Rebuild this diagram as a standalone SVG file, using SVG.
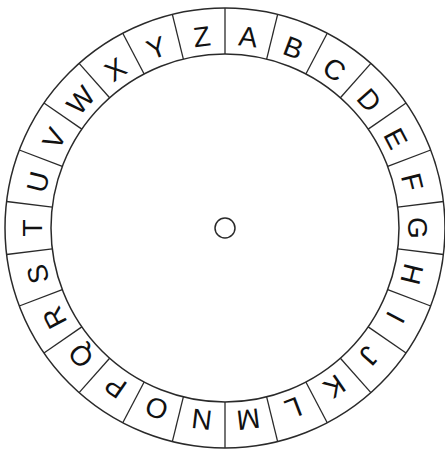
<svg xmlns="http://www.w3.org/2000/svg" xmlns:xlink="http://www.w3.org/1999/xlink" width="445" height="451" viewBox="0 0 445 451">
<style>
.ring{fill:none;stroke:#2a2a2a;stroke-width:1.5}
.div{stroke:#2a2a2a;stroke-width:1.3}
.lt{font-family:"Liberation Sans",Arial,sans-serif;font-size:28px;fill:#111;text-anchor:middle}
</style>
<defs>
<line id="d" class="div" x1="225" y1="54" x2="225" y2="8"/>
</defs>
<rect width="445" height="451" fill="#fff"/>
<g id="wheel">
<circle class="ring" cx="225" cy="228" r="220"/>
<circle class="ring" cx="225" cy="228" r="174"/>
<circle id="hub" class="ring" cx="225" cy="228" r="10"/>
</g>
<g id="dividers">
<use xlink:href="#d" transform="rotate(0 225 228)"/>
<use xlink:href="#d" transform="rotate(13.846 225 228)"/>
<use xlink:href="#d" transform="rotate(27.692 225 228)"/>
<use xlink:href="#d" transform="rotate(41.538 225 228)"/>
<use xlink:href="#d" transform="rotate(55.385 225 228)"/>
<use xlink:href="#d" transform="rotate(69.231 225 228)"/>
<use xlink:href="#d" transform="rotate(83.077 225 228)"/>
<use xlink:href="#d" transform="rotate(96.923 225 228)"/>
<use xlink:href="#d" transform="rotate(110.769 225 228)"/>
<use xlink:href="#d" transform="rotate(124.615 225 228)"/>
<use xlink:href="#d" transform="rotate(138.462 225 228)"/>
<use xlink:href="#d" transform="rotate(152.308 225 228)"/>
<use xlink:href="#d" transform="rotate(166.154 225 228)"/>
<use xlink:href="#d" transform="rotate(180 225 228)"/>
<use xlink:href="#d" transform="rotate(193.846 225 228)"/>
<use xlink:href="#d" transform="rotate(207.692 225 228)"/>
<use xlink:href="#d" transform="rotate(221.538 225 228)"/>
<use xlink:href="#d" transform="rotate(235.385 225 228)"/>
<use xlink:href="#d" transform="rotate(249.231 225 228)"/>
<use xlink:href="#d" transform="rotate(263.077 225 228)"/>
<use xlink:href="#d" transform="rotate(276.923 225 228)"/>
<use xlink:href="#d" transform="rotate(290.769 225 228)"/>
<use xlink:href="#d" transform="rotate(304.615 225 228)"/>
<use xlink:href="#d" transform="rotate(318.462 225 228)"/>
<use xlink:href="#d" transform="rotate(332.308 225 228)"/>
<use xlink:href="#d" transform="rotate(346.154 225 228)"/>
</g>
<g id="letters">
<text class="lt" x="225" y="45" transform="rotate(6.923 225 228)">A</text>
<text class="lt" x="225" y="45" transform="rotate(20.769 225 228)">B</text>
<text class="lt" x="225" y="45" transform="rotate(34.615 225 228)">C</text>
<text class="lt" x="225" y="45" transform="rotate(48.462 225 228)">D</text>
<text class="lt" x="225" y="45" transform="rotate(62.308 225 228)">E</text>
<text class="lt" x="225" y="45" transform="rotate(76.154 225 228)">F</text>
<text class="lt" x="225" y="45" transform="rotate(90 225 228)">G</text>
<text class="lt" x="225" y="45" transform="rotate(103.846 225 228)">H</text>
<text class="lt" x="225" y="45" transform="rotate(117.692 225 228)">I</text>
<text class="lt" x="225" y="45" transform="rotate(131.538 225 228)">J</text>
<text class="lt" x="225" y="45" transform="rotate(145.385 225 228)">K</text>
<text class="lt" x="225" y="45" transform="rotate(159.231 225 228)">L</text>
<text class="lt" x="225" y="45" transform="rotate(173.077 225 228)">M</text>
<text class="lt" x="225" y="45" transform="rotate(186.923 225 228)">N</text>
<text class="lt" x="225" y="45" transform="rotate(200.769 225 228)">O</text>
<text class="lt" x="225" y="45" transform="rotate(214.615 225 228)">P</text>
<text class="lt" x="225" y="45" transform="rotate(228.462 225 228)">Q</text>
<text class="lt" x="225" y="45" transform="rotate(242.308 225 228)">R</text>
<text class="lt" x="225" y="45" transform="rotate(256.154 225 228)">S</text>
<text class="lt" x="225" y="45" transform="rotate(270 225 228)">T</text>
<text class="lt" x="225" y="45" transform="rotate(283.846 225 228)">U</text>
<text class="lt" x="225" y="45" transform="rotate(297.692 225 228)">V</text>
<text class="lt" x="225" y="45" transform="rotate(311.538 225 228)">W</text>
<text class="lt" x="225" y="45" transform="rotate(325.385 225 228)">X</text>
<text class="lt" x="225" y="45" transform="rotate(339.231 225 228)">Y</text>
<text class="lt" x="225" y="45" transform="rotate(353.077 225 228)">Z</text>
</g>
</svg>
